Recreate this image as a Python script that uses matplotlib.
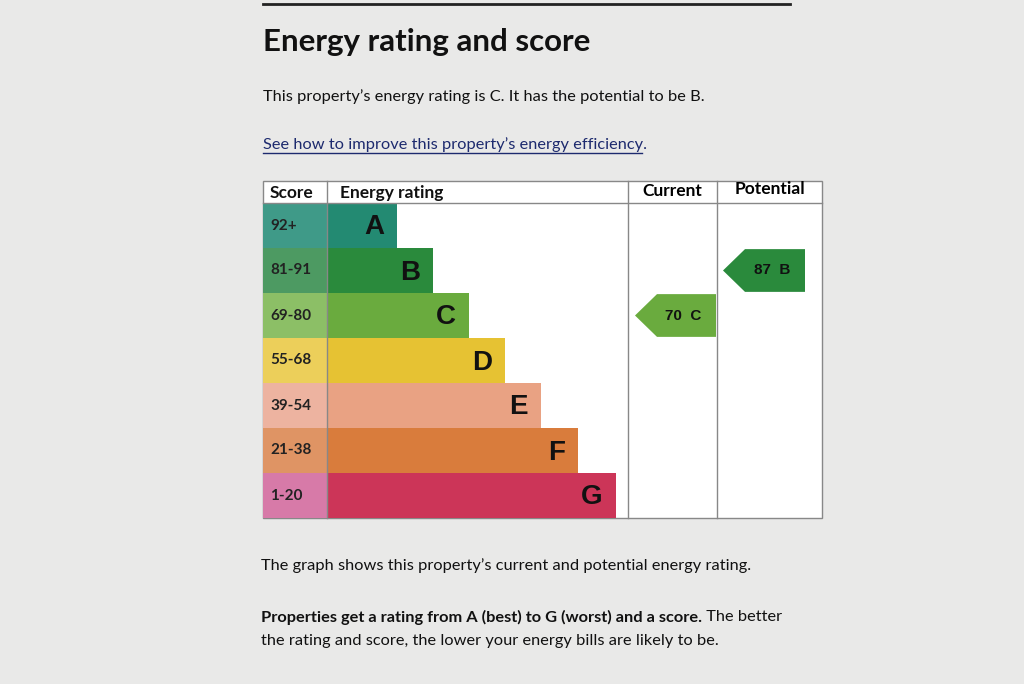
import matplotlib
matplotlib.use("Agg")
import matplotlib.pyplot as plt
from matplotlib.patches import Polygon, Rectangle

# ── data ──────────────────────────────────────────────────────────────────────
bands = ["A", "B", "C", "D", "E", "F", "G"]
score_ranges = ["92+", "81-91", "69-80", "55-68", "39-54", "21-38", "1-20"]
band_colors = ["#238a72", "#2a8a3c", "#6aab3e", "#e6c233", "#e9a283", "#d97c3c", "#cc3558"]
score_colors = ["#3f9a88", "#4d9a62", "#8cbf66", "#eccf5a", "#edb3a0", "#df9464", "#d77aa8"]
band_lengths = [69, 105, 141, 177, 213, 250, 288]
current_score, current_band = 70, "C"
potential_score, potential_band = 87, "B"

plt.rcParams["font.family"] = ["Lato", "DejaVu Sans"]
fig = plt.figure(figsize=(10.24, 6.84), dpi=100)
fig.patch.set_facecolor("#e9e9e8")
ax = fig.add_axes([0, 0, 1, 1])
ax.set_xlim(0, 1024)
ax.set_ylim(684, 0)
ax.axis("off")

BODY = 11.8

# header texts
ax.plot([263, 790], [4, 4], color="#222", lw=2)
ax.text(263, 42, "Energy rating and score", fontsize=22.5, fontweight="bold",
        va="center", color="#111")
ax.text(263, 97, "This property\u2019s energy rating is C. It has the potential to be B.",
        fontsize=BODY, va="center", color="#111")
ax.text(263, 145, "See how to improve this property\u2019s energy efficiency.",
        fontsize=BODY, va="center", color="#1d2a6e")
ax.plot([263, 642], [153, 153], color="#1d2a6e", lw=1)

# table frame
top, head, bottom = 181, 203, 518
left, sc_right, cur_l, pot_l, right = 263, 327, 628, 717, 822
ax.add_patch(Rectangle((left, top), right - left, bottom - top, fc="white", ec="#888", lw=1))
for x in (sc_right, cur_l, pot_l):
    ax.plot([x, x], [top, bottom], color="#888", lw=1)
ax.plot([left, right], [head, head], color="#888", lw=1)
for x, t in [(270, "Score"), (340, "Energy rating")]:
    ax.text(x, 193, t, fontsize=12.5, fontweight="bold", va="center", color="#111")
ax.text((cur_l + pot_l) / 2, 191, "Current", fontsize=12.5, fontweight="bold", ha="center", va="center")
ax.text((pot_l + right) / 2, 189, "Potential", fontsize=12.5, fontweight="bold", ha="center", va="center")

row_h = (bottom - head) / len(bands)
centers = [head + row_h * (i + 0.5) for i in range(len(bands))]
ax.barh(centers, [sc_right - left] * len(bands), left=left, height=row_h,
        color=score_colors)
ax.barh(centers, band_lengths, left=sc_right + 1, height=row_h, color=band_colors)
for y, s, b, w in zip(centers, score_ranges, bands, band_lengths):
    ax.text(270, y, s, fontsize=11, fontweight="bold", va="center", color="#222")
    ax.text(sc_right + w - 12, y + 2, b, fontsize=20, fontweight="bold", va="center",
            ha="right", color="#111", family=["Liberation Sans", "DejaVu Sans"])

def arrow(x0, x1, band, score, color):
    y = centers[bands.index(band)]
    h = row_h * 0.95
    ax.add_patch(Polygon([(x0, y), (x0 + 22, y - h / 2), (x1, y - h / 2),
                          (x1, y + h / 2), (x0 + 22, y + h / 2)], fc=color))
    ax.text((x0 + x1) / 2 + 8, y, f"{score}  {band}", fontsize=11, fontweight="bold",
            ha="center", va="center", color="#111",
            family=["Liberation Sans", "DejaVu Sans"])

arrow(635, 716, current_band, current_score, band_colors[bands.index(current_band)])
arrow(723, 805, potential_band, potential_score, band_colors[bands.index(potential_band)])

# footer texts
ax.text(261, 566, "The graph shows this property\u2019s current and potential energy rating.",
        fontsize=BODY, va="center", color="#111")
bold = ax.text(261, 617, "Properties get a rating from A (best) to G (worst) and a score.",
               fontsize=BODY, fontweight="bold", va="center", color="#111")
ax.annotate(" The better", xy=(1, 0.5), xycoords=bold, fontsize=BODY,
            va="center", ha="left", color="#111")
ax.text(261, 641, "the rating and score, the lower your energy bills are likely to be.",
        fontsize=BODY, va="center", color="#111")

fig.savefig("out.png", dpi=100, facecolor=fig.get_facecolor())
